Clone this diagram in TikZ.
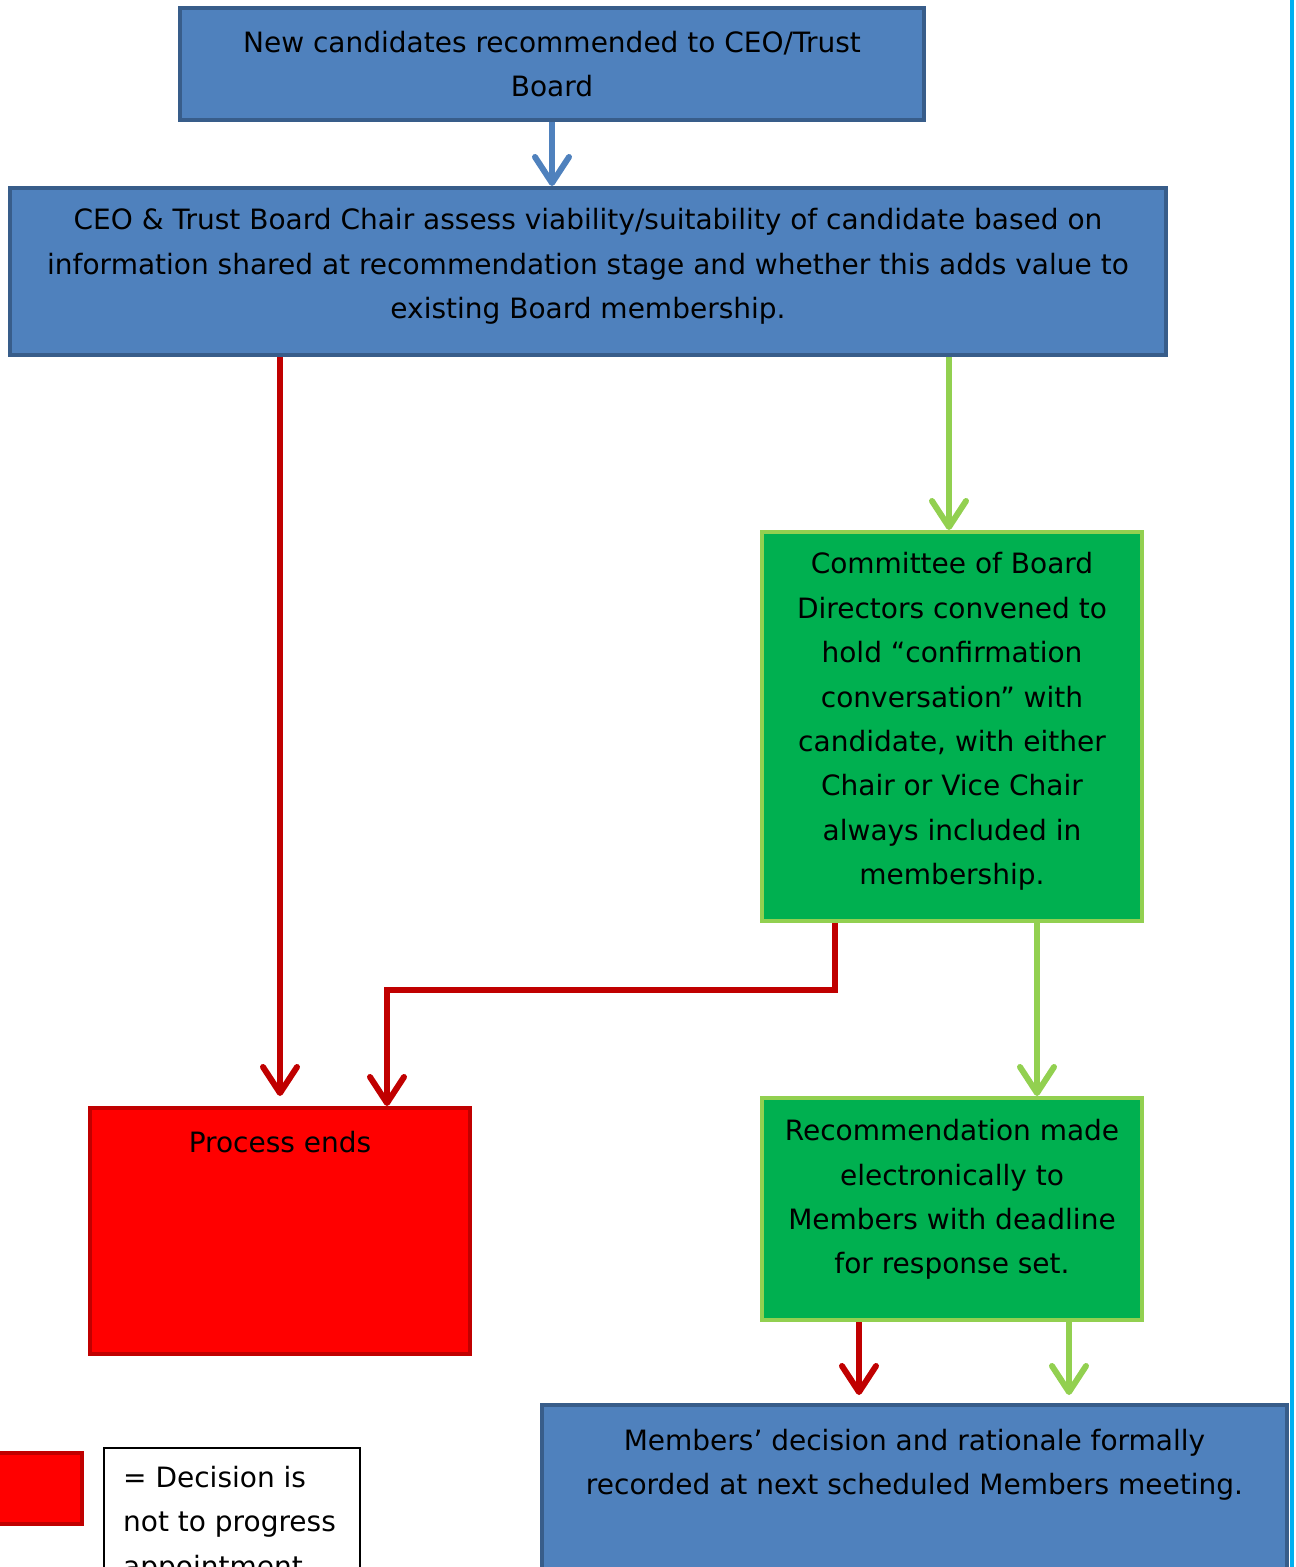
\documentclass[tikz,border=0pt]{standalone}
\usepackage{fontspec}
\setmainfont{DejaVu Sans}
\usetikzlibrary{arrows.meta}
\definecolor{boxblue}{HTML}{4F81BD}
\definecolor{blueline}{HTML}{385D8A}
\definecolor{boxgreen}{HTML}{00B050}
\definecolor{greenline}{HTML}{92D050}
\definecolor{redline}{HTML}{C00000}
\definecolor{edgeblue}{HTML}{00B0F0}
\begin{document}
\begin{tikzpicture}[x=1pt,y=-1pt]
\tikzstyle{every node}+=[inner sep=0pt, font=\fontsize{28}{44.4}\selectfont, align=center]
\tikzstyle{bluebox}=[draw=blueline, fill=boxblue, line width=4pt]
\tikzstyle{greenbox}=[draw=greenline, fill=boxgreen, line width=4pt]
\tikzstyle{redbox}=[draw=redline, fill=red, line width=4pt]
\tikzstyle{tip}=[line width=6pt, -{Straight Barb[length=26pt,width=34pt,round]}]
\useasboundingbox (0,0) rectangle (1296,1567);
\clip (0,0) rectangle (1296,1567);
\draw [edgeblue, line width=4pt] (1292,0) -- (1292,1567);
\node [bluebox, minimum width=744, minimum height=112] (new) at (552,64) {New candidates recommended to CEO/Trust\\Board};
\node [bluebox, minimum width=1156, minimum height=167] (assess) at (588,271.5) {};
\node (assesstext) at (588,266.5) {CEO \& Trust Board Chair assess viability/suitability of candidate based on\\information shared at recommendation stage and whether this adds value to\\existing Board membership.};
\node [greenbox, minimum width=380, minimum height=389] (committee) at (952,726.5) {};
\node (committeetext) at (952,721.5) {Committee of Board\\Directors convened to\\hold “confirmation\\conversation” with\\candidate, with either\\Chair or Vice Chair\\always included in\\membership.};
\node [greenbox, minimum width=380, minimum height=222] (recommend) at (952,1209) {};
\node (recommendtext) at (952,1199.5) {Recommendation made\\electronically to\\Members with deadline\\for response set.};
\node [redbox, minimum width=380, minimum height=246] (ends) at (280,1231) {};
\node [anchor=north] (endstext) at (280,1131) {Process ends};
\node [bluebox, minimum width=745, minimum height=260] (members) at (914.5,1535) {};
\node [anchor=north] (memberstext) at (914.5,1429) {Members’ decision and rationale formally\\recorded at next scheduled Members meeting.};
\node [redbox, minimum width=96, minimum height=71] (key) at (34,1488.5) {};
\node [draw=black, line width=1.5pt, minimum width=256, minimum height=200, anchor=north west] (keybox) at (103,1447) {};
\node [anchor=north west, align=left] (keytext) at (123,1466) {= Decision is\\not to progress\\appointment};
\draw [tip, boxblue] (new.south) -- (new.south |- assess.north);
\draw [tip, redline, shorten >=10pt] (assess.south -| ends.north) -- (ends.north);
\draw [tip, greenline] ([xshift=-3pt]assess.south -| committee.north) -- ([xshift=-3pt]committee.north);
\draw [tip, redline] ([xshift=-117pt]committee.south) -- ++(0,67) -| ([xshift=107pt]ends.north);
\draw [tip, greenline] ([xshift=85pt]committee.south) -- ([xshift=85pt]recommend.north);
\draw [tip, redline, shorten >=8pt] ([xshift=-93pt]recommend.south) -- ([xshift=-93pt]recommend.south |- members.north);
\draw [tip, greenline, shorten >=8pt] ([xshift=117pt]recommend.south) -- ([xshift=117pt]recommend.south |- members.north);
\end{tikzpicture}
\end{document}
